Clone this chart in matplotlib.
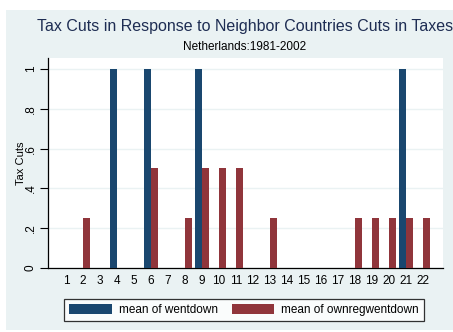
import numpy as np
import matplotlib.pyplot as plt
from matplotlib.patches import Rectangle

plt.rcParams['font.family'] = ['Liberation Sans', 'DejaVu Sans']

# data
years = [str(i) for i in range(1, 23)]
wentdown = [0, 0, 0, 1, 0, 1, 0, 0, 1, 0, 0, 0, 0, 0, 0, 0, 0, 0, 0, 0, 1, 0]
ownregwentdown = [0, .25, 0, 0, 0, .5, 0, .25, .5, .5, .5, 0, .25, 0, 0, 0, 0, .25, .25, .25, .25, .25]
ytick_vals = [0, .2, .4, .6, .8, 1]
ytick_labels = ["0", ".2", ".4", ".6", ".8", "1"]

navy = "#1a476f"
maroon = "#90353b"
bg = "#eaf2f3"

fig = plt.figure(figsize=(4.53, 3.32), dpi=100, facecolor="white")
# stata-like light panel behind everything
panel = Rectangle((6 / 453, 1 - 330 / 332), 447 / 453, 320 / 332,
                  transform=fig.transFigure, facecolor=bg, edgecolor="none", zorder=-5)
fig.add_artist(panel)

ax = fig.add_axes([48 / 453, 1 - 268 / 332, 395 / 453, 210 / 332])
ax.set_facecolor("white")

x = np.arange(len(years))
w = 0.39
ax.bar(x - w / 2, wentdown, w, color=navy, label="mean of wentdown", zorder=3)
ax.bar(x + w / 2, ownregwentdown, w, color=maroon, label="mean of ownregwentdown", zorder=3)

ax.set_xlim(-1.06, 22.18)
ax.set_ylim(0, 1.055)
ax.set_xticks(x)
ax.set_xticklabels(years, fontsize=8.5)
ax.tick_params(axis="x", length=0, pad=5)
ax.set_yticks(ytick_vals)
ax.set_yticklabels(ytick_labels, fontsize=8.5, rotation=90, va="center")
ax.tick_params(axis="y", length=6, width=0.8, pad=2)
ax.yaxis.grid(True, color=bg, lw=1, zorder=0)
ax.set_axisbelow(True)
for s in ["top", "right"]:
    ax.spines[s].set_visible(False)
ax.spines["left"].set_linewidth(0.9)
ax.spines["bottom"].set_linewidth(0.9)
ax.set_ylabel("Tax Cuts", fontsize=8, labelpad=-1)

fig.text(245 / 453, 1 - 27 / 332, "Tax Cuts in Response to Neighbor Countries Cuts in Taxes",
         ha="center", va="center", fontsize=11.5, color="#1e2d53")
fig.text(245 / 453, 1 - 47 / 332, "Netherlands:1981-2002", ha="center", va="center",
         fontsize=8.5, color="black")

leg = fig.legend(loc="center", bbox_to_anchor=(244 / 453, 1 - 310 / 332), ncol=2,
                 fontsize=8.5, frameon=True, fancybox=False, handlelength=3.6,
                 handleheight=1.0, handletextpad=0.6, columnspacing=1.2, borderpad=0.4)
leg.get_frame().set_edgecolor("black")
leg.get_frame().set_linewidth(0.9)

fig.savefig("out.png", dpi=100, facecolor="white")
